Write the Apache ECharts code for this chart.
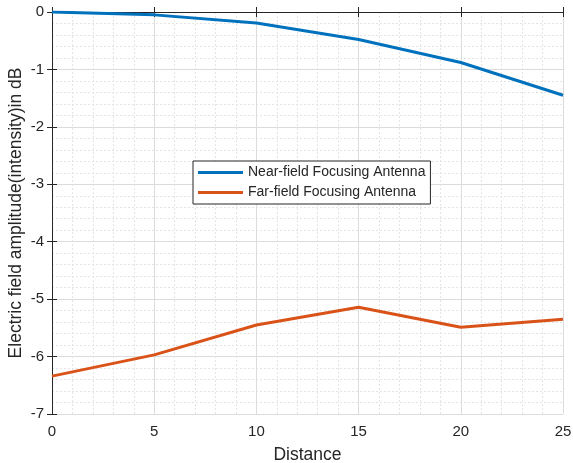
<!DOCTYPE html>
<html>
<head>
<meta charset="utf-8">
<script src="https://cdn.jsdelivr.net/npm/echarts@6/dist/echarts.min.js"></script>
<style>
  html, body { margin: 0; padding: 0; background: #fff; }
  #chart { width: 573px; height: 463px; }
</style>
</head>
<body>
<div id="chart"></div>
<script>
var distance = [0, 5, 10, 15, 20, 25];
var nearField = [0, -0.05, -0.19, -0.48, -0.88, -1.45];
var farField = [-6.34, -5.97, -5.45, -5.14, -5.49, -5.35];
var seriesNames = ['Near-field Focusing Antenna', 'Far-field Focusing Antenna'];

function pairs(xs, ys) {
    return xs.map(function (x, i) { return [x, ys[i]]; });
}

var font = 'Liberation Sans, Arial, sans-serif';
function axisBase() {
    return {
        type: 'value',
        axisLine: { show: true, lineStyle: { color: '#262626', width: 1 } },
        axisTick: { show: true, inside: true, length: 5, lineStyle: { color: '#262626' } },
        minorTick: { show: false, splitNumber: 5 },
        splitLine: { show: true, lineStyle: { color: '#dcdcdc', width: 1 } },
        minorSplitLine: { show: true, lineStyle: { color: '#e4e4e4', type: [2, 2], width: 1 } },
        axisLabel: { color: '#262626', fontSize: 15, fontFamily: font }
    };
}

var xMain = Object.assign(axisBase(), {
    min: 0, max: 25, interval: 5,
    name: 'Distance',
    nameLocation: 'middle',
    nameGap: 32,
    nameMoveOverlap: false,
    nameTextStyle: { color: '#262626', fontSize: 17.5, fontFamily: font }
});
xMain.axisLabel.margin = 10;

var xTop = Object.assign(axisBase(), {
    min: 0, max: 25, interval: 5, position: 'top',
    axisLabel: { show: false },
    splitLine: { show: false }, minorSplitLine: { show: false }
});

var yMain = Object.assign(axisBase(), {
    min: -7, max: 0, interval: 1,
    name: 'Electric field amplitude(intensity)in dB',
    nameLocation: 'middle',
    nameGap: 27,
    nameMoveOverlap: false,
    nameTextStyle: { color: '#262626', fontSize: 17.5, fontFamily: font }
});
yMain.axisLabel.margin = 8;

var yRight = Object.assign(axisBase(), {
    min: -7, max: 0, interval: 1, position: 'right',
    axisLabel: { show: false },
    splitLine: { show: false }, minorSplitLine: { show: false }
});

var option = {
    backgroundColor: '#fff',
    animation: false,
    grid: { left: 52, right: 10, top: 12, bottom: 49, containLabel: false, outerBoundsMode: 'none' },
    legend: {
        left: 193,
        top: 161,
        orient: 'vertical',
        data: seriesNames,
        backgroundColor: '#fff',
        borderColor: '#262626',
        borderWidth: 1,
        borderRadius: 0,
        padding: [3, 5, 3, 5],
        itemGap: 3,
        itemWidth: 45,
        itemHeight: 3,
        icon: 'rect',
        textStyle: { color: '#262626', fontSize: 14, fontFamily: font, lineHeight: 17 }
    },
    xAxis: [xMain, xTop],
    yAxis: [yMain, yRight],
    series: [
        {
            name: seriesNames[0],
            type: 'line',
            data: pairs(distance, nearField),
            showSymbol: false,
            lineStyle: { color: '#0072BD', width: 3 },
            itemStyle: { color: '#0072BD' }
        },
        {
            name: seriesNames[1],
            type: 'line',
            data: pairs(distance, farField),
            showSymbol: false,
            lineStyle: { color: '#D95319', width: 3 },
            itemStyle: { color: '#D95319' }
        }
    ]
};

var myChart = echarts.init(document.getElementById('chart'));
myChart.setOption(option);
</script>
</body>
</html>
